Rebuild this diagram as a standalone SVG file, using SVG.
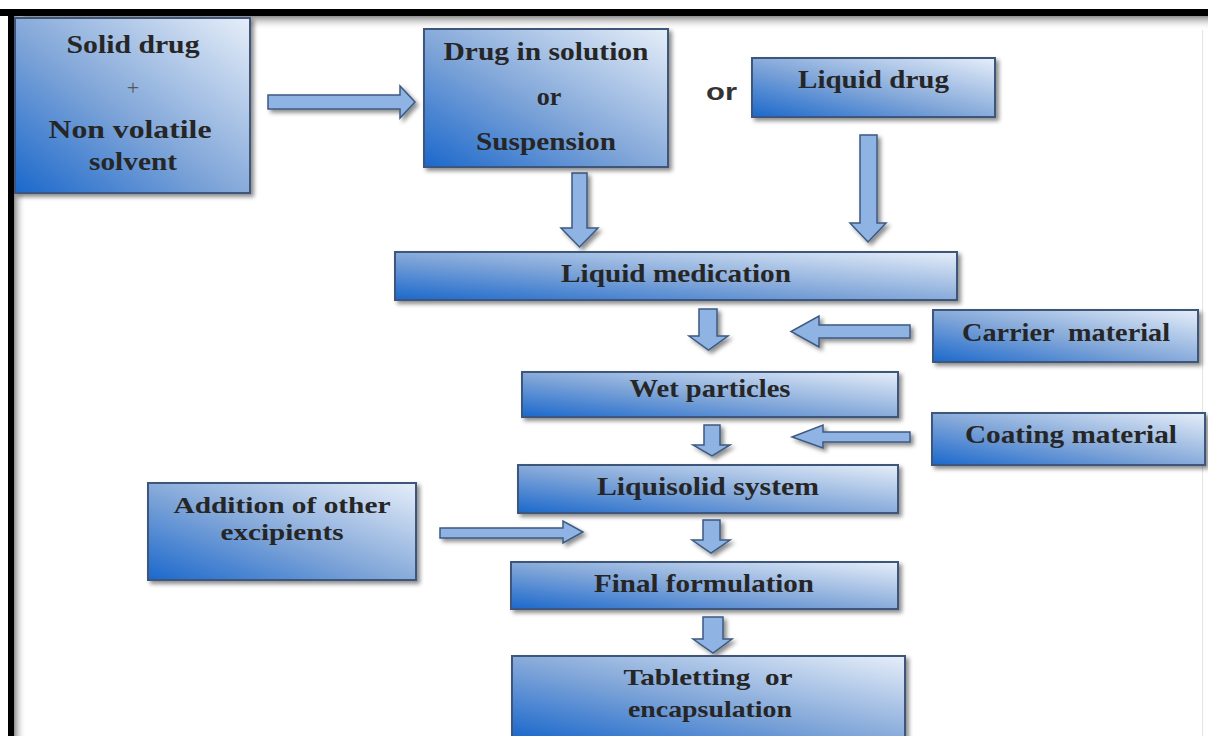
<svg xmlns="http://www.w3.org/2000/svg" width="1208" height="736" viewBox="0 0 1208 736">
<defs>
<linearGradient id="boxg" x1="0" y1="1" x2="1" y2="0">
<stop offset="0" stop-color="#1b68cc"/>
<stop offset="0.45" stop-color="#7fa5d8"/>
<stop offset="1" stop-color="#e6eef9"/>
</linearGradient>
<linearGradient id="topsh" x1="0" y1="0" x2="0" y2="1">
<stop offset="0" stop-color="#8c8c8c"/>
<stop offset="1" stop-color="#ffffff" stop-opacity="0"/>
</linearGradient>
<linearGradient id="leftsh" x1="0" y1="0" x2="1" y2="0">
<stop offset="0" stop-color="#8c8c8c"/>
<stop offset="1" stop-color="#ffffff" stop-opacity="0"/>
</linearGradient>
<filter id="sh" x="-10%" y="-20%" width="130%" height="150%">
<feDropShadow dx="3" dy="3" stdDeviation="2" flood-color="#000" flood-opacity="0.45"/>
</filter>
<style>
.box{fill:url(#boxg);stroke:#3d5679;stroke-width:2;filter:url(#sh)}
.t{font-family:"Liberation Serif","Times New Roman",serif;font-weight:bold;font-size:26px;fill:#262626;text-anchor:middle}
.t2{font-size:23px}
.plus{font-family:"Liberation Serif","Times New Roman",serif;font-size:22px;fill:#555;text-anchor:middle}
.or{font-family:"Liberation Sans",Arial,sans-serif;font-weight:bold;font-size:23px;fill:#333;text-anchor:middle}
.arr{fill:#8fb3e2;stroke:#3c5a82;stroke-width:1.5;stroke-linejoin:miter;filter:url(#sh)}
</style>
</defs>
<rect x="0" y="0" width="1208" height="736" fill="#ffffff"/>
<!-- frame -->
<rect x="14" y="16" width="1194" height="14" fill="url(#topsh)"/>
<rect x="14" y="16" width="12" height="720" fill="url(#leftsh)"/>
<rect x="0" y="9" width="1208" height="7" fill="#000"/>
<rect x="8" y="9" width="6" height="727" fill="#000"/>
<line x1="1202.5" y1="30" x2="1202.5" y2="736" stroke="#e4e4e4" stroke-width="1"/>

<g id="connectors">
<path class="arr" d="M268,95 H400 V86 L415,102 L400,118 V109 H268 Z"/>
<path class="arr" d="M572,173 H587 V228 H598 L579.5,247 L561,228 H572 Z"/>
<path class="arr" d="M860,135 H877 V223 H886 L868,242 L850,223 H860 Z"/>
<path class="arr" d="M699,309 H717 V336 H728 L708.5,350 L689,336 H699 Z"/>
<path class="arr" d="M910,325 H819 V316 L791,331.5 L819,347 V338 H910 Z"/>
<path class="arr" d="M704,425 H720 V445 H730 L712,456 L693,445 H704 Z"/>
<path class="arr" d="M910,432 H823 V425 L792,437 L823,448 V442 H910 Z"/>
<path class="arr" d="M703,520 H720 V540 H730 L711,553 L692,540 H703 Z"/>
<path class="arr" d="M440,528 H563 V521 L583,532 L563,543 V538 H440 Z"/>
<path class="arr" d="M703,617 H723 V639 H732 L713,653 L693,639 H703 Z"/>
</g>

<g id="solid-drug">
<rect class="box" x="15" y="18" width="235" height="175"/>
<text class="t" x="133" y="53" textLength="133" lengthAdjust="spacingAndGlyphs">Solid drug</text>
<text class="plus" x="133" y="95">+</text>
<text class="t" x="130" y="138" textLength="163" lengthAdjust="spacingAndGlyphs">Non volatile</text>
<text class="t" x="133" y="170" textLength="88" lengthAdjust="spacingAndGlyphs">solvent</text>
</g>

<g id="drug-in-solution">
<rect class="box" x="424" y="29" width="244" height="138"/>
<text class="t" x="546" y="60" textLength="205" lengthAdjust="spacingAndGlyphs">Drug in solution</text>
<text class="t" x="549" y="105">or</text>
<text class="t" x="546" y="150" textLength="140" lengthAdjust="spacingAndGlyphs">Suspension</text>
</g>

<g id="or-label">
<text class="or" x="721.5" y="100" textLength="31" lengthAdjust="spacingAndGlyphs">or</text>
</g>

<g id="liquid-drug">
<rect class="box" x="752" y="58" width="243" height="59"/>
<text class="t" x="873.5" y="88" textLength="151" lengthAdjust="spacingAndGlyphs">Liquid drug</text>
</g>

<g id="liquid-medication">
<rect class="box" x="395" y="252" width="562" height="48"/>
<text class="t" x="676" y="282" textLength="230" lengthAdjust="spacingAndGlyphs">Liquid medication</text>
</g>

<g id="carrier-material">
<rect class="box" x="933" y="310" width="265" height="52"/>
<text class="t" x="1066" y="341" textLength="208" lengthAdjust="spacingAndGlyphs" xml:space="preserve">Carrier  material</text>
</g>

<g id="wet-particles">
<rect class="box" x="522" y="372" width="376" height="45"/>
<text class="t" x="710" y="397" textLength="161" lengthAdjust="spacingAndGlyphs">Wet particles</text>
</g>

<g id="coating-material">
<rect class="box" x="932" y="413" width="273" height="52"/>
<text class="t" x="1071" y="443" textLength="212" lengthAdjust="spacingAndGlyphs">Coating material</text>
</g>

<g id="liquisolid-system">
<rect class="box" x="518" y="465" width="380" height="48"/>
<text class="t" x="708" y="495" textLength="222" lengthAdjust="spacingAndGlyphs">Liquisolid system</text>
</g>

<g id="addition-excipients">
<rect class="box" x="148" y="483" width="268" height="97"/>
<text class="t t2" x="282" y="513" textLength="217" lengthAdjust="spacingAndGlyphs">Addition of other</text>
<text class="t t2" x="282" y="540" textLength="123" lengthAdjust="spacingAndGlyphs">excipients</text>
</g>

<g id="final-formulation">
<rect class="box" x="511" y="562" width="387" height="47"/>
<text class="t" x="704" y="592" textLength="220" lengthAdjust="spacingAndGlyphs">Final formulation</text>
</g>

<g id="tabletting">
<rect class="box" x="512" y="656" width="393" height="82"/>
<text class="t t2" x="708" y="685" textLength="169" lengthAdjust="spacingAndGlyphs" xml:space="preserve">Tabletting  or</text>
<text class="t t2" x="710" y="717" textLength="164" lengthAdjust="spacingAndGlyphs">encapsulation</text>
</g>
</svg>
